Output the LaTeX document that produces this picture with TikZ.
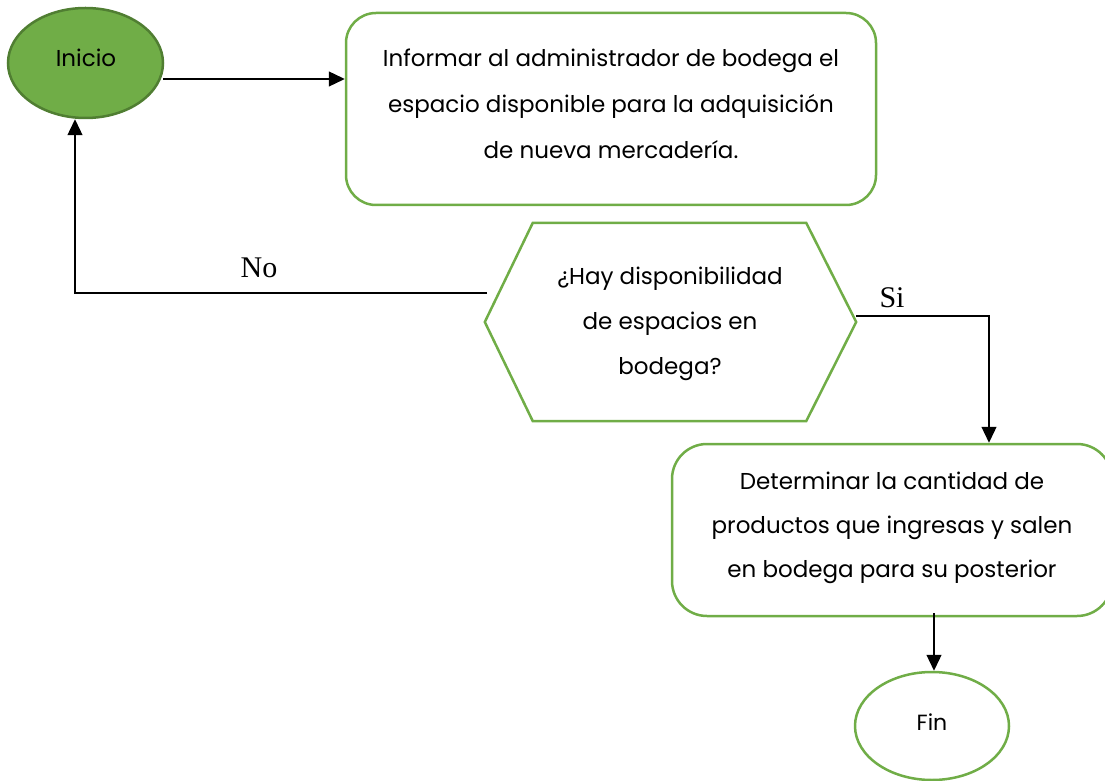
\documentclass[tikz,border=0pt]{standalone}
\usepackage{fontspec}
\setmainfont{Poppins}
\newfontfamily\serifx{Liberation Serif}
\usetikzlibrary{shapes.geometric,arrows.meta}
\definecolor{gr}{HTML}{70AD47}
\definecolor{grd}{HTML}{507E32}
\tikzset{
  x=1pt,y=1pt,
  green box/.style={draw=gr,line width=2.5pt,rounded corners=30pt,inner sep=0pt,align=center},
  oval/.style={ellipse,draw=gr,line width=2.5pt,inner sep=0pt},
  conn/.style={line width=1.3pt,-{Triangle[length=16pt,width=15pt]}},
  lbl/.style={font=\serifx\fontsize{30}{32}\selectfont,inner sep=0pt},
  txt/.style={font=\fontsize{23}{46}\selectfont,align=center}
}
\begin{document}
\begin{tikzpicture}
\useasboundingbox (0,0) rectangle (1105,780);
\clip (0,0) rectangle (1105,780);
% nodes
\node[oval,fill=gr,draw=grd,minimum width=155pt,minimum height=110pt] (inicio) at (85.5,717) {};
\node[font=\fontsize{23}{26}\selectfont] at (86,722) {Inicio};
\node[green box,minimum width=530pt,minimum height=192pt] (box1) at (611,671) {};
\node[txt] at (611,676) {Informar al administrador de bodega el\\espacio disponible para la adquisición\\de nueva mercadería.};
\node[minimum width=371pt,minimum height=198pt,inner sep=0pt] (hex) at (670.5,458) {};
\draw[gr,line width=2.5pt] (hex.west) -- ([xshift=48pt]hex.north west) -- ([xshift=-50pt]hex.north east) -- (hex.east) -- ([xshift=-50pt]hex.south east) -- ([xshift=48pt]hex.south west) -- cycle;
\node[font=\fontsize{23}{45}\selectfont,align=center] at (670,456) {¿Hay disponibilidad\\de espacios en\\bodega?};
\node[green box,rounded corners=35pt,minimum width=440pt,minimum height=172pt] (box2) at (892,250) {};
\node[font=\fontsize{23}{44}\selectfont,align=center] at (892,252) {Determinar la cantidad de\\productos que ingresas y salen\\en bodega para su posterior};
\node[oval,minimum width=154pt,minimum height=108pt] (fin) at (932,54) {};
\node[font=\fontsize{22}{25}\selectfont] at (932,58) {Fin};
% connectors
\coordinate (a1) at (163,701);
\draw[conn] (a1) -- (box1.west |- a1);
\coordinate (nostart) at (487,487);
\coordinate (nocorner) at (75,487);
\draw[conn] (nostart) -- (nocorner) -- (nocorner |- inicio.south);
\node[lbl] at (259,512) {No};
\coordinate (sistart) at (856,464);
\coordinate (sicorner) at (989,464);
\draw[conn] (sistart) -- (sicorner) -- (sicorner |- box2.north);
\node[lbl] at (892,482) {Si};
\coordinate (f1) at (934,167);
\draw[conn] (f1) -- (f1 |- fin.north);
\end{tikzpicture}
\end{document}
